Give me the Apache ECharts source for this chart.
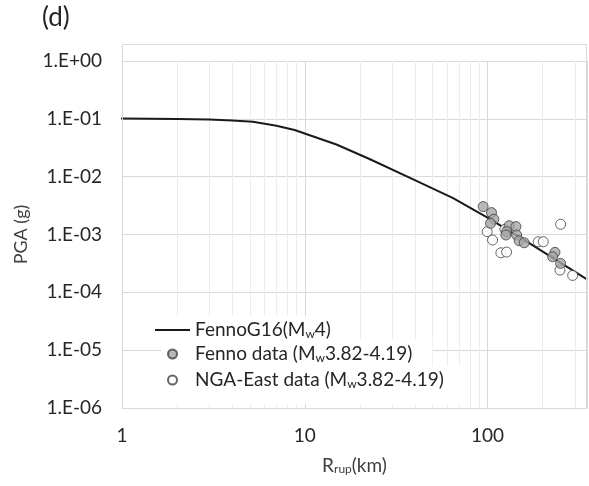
<!DOCTYPE html>
<html>
<head>
<meta charset="utf-8">
<script src="https://cdn.jsdelivr.net/npm/echarts@6/dist/echarts.min.js"></script>
<style>
html,body{margin:0;padding:0;background:#ffffff;}
#chart{width:589px;height:486px;}
</style>
</head>
<body>
<div id="chart"></div>
<script>
// ---- data ----
const xTicks = [1, 10, 100];
const xTickLabels = ['1', '10', '100'];
const yTicks = [1e-6, 1e-5, 1e-4, 1e-3, 1e-2, 1e-1, 1];
const yTickLabels = ['1.E-06', '1.E-05', '1.E-04', '1.E-03', '1.E-02', '1.E-01', '1.E+00'];
const xMinor = [2, 3, 4, 5, 6, 7, 8, 9, 20, 30, 40, 50, 60, 70, 80, 90, 200, 300];

const curveName = 'FennoG16(Mw4)';
const curveX = [0.885, 1, 2, 3, 4, 5.2, 7, 8.8, 14.9, 22.6, 40, 64.8, 80, 100, 160, 350];
const curveY = [0.101, 0.101, 0.0995, 0.0973, 0.094, 0.0887, 0.076, 0.064, 0.036, 0.0202, 0.0087, 0.00425, 0.00292, 0.00195, 0.00079, 0.000167];

const fennoName = 'Fenno data (Mw3.82-4.19)';
const fennoX = [94.6, 105.1, 108.3, 103.8, 131.3, 142.9, 127.1, 126, 144.2, 149, 158.7, 233.8, 227, 251];
const fennoY = [3.04e-3, 2.39e-3, 1.84e-3, 1.56e-3, 1.42e-3, 1.37e-3, 1.12e-3, 9.8e-4, 9.8e-4, 7.8e-4, 7.2e-4, 4.91e-4, 4.12e-4, 3.16e-4];

const ngaName = 'NGA-East data (Mw3.82-4.19)';
const ngaX = [251, 99.5, 106.5, 124.4, 189.3, 201.7, 118.3, 127.1, 249, 292.3];
const ngaY = [1.5e-3, 1.12e-3, 8.03e-4, 1.23e-3, 7.5e-4, 7.5e-4, 4.83e-4, 4.97e-4, 2.42e-4, 1.96e-4];

// ---- layout ----
const FONT = 'Lato';
const FS = 19;
const gridLeft = 122, gridRight = 2, gridTop = 61, gridBottom = 78;
const frameTop = 44;
const W = 589, H = 486;

function zip(a, b) { return a.map((v, i) => [v, b[i]]); }
function tickLabel(v, ticks, labels) {
  for (let i = 0; i < ticks.length; i++) {
    if (Math.abs(Math.log10(v) - Math.log10(ticks[i])) < 1e-6) return labels[i];
  }
  return '';
}
function richName(n) { return n.replace('Mw', 'M{s|w}'); }

const chart = echarts.init(document.getElementById('chart'), null, {renderer: 'canvas'});
function legendText(padLeft) {
  return {
    fontFamily: FONT, fontSize: FS, color: '#262626', lineHeight: 20, padding: [0, 0, 0, padLeft],
    rich: { s: { fontFamily: FONT, fontSize: 12, color: '#262626', lineHeight: 12, verticalAlign: 'bottom' } }
  };
}
chart.setOption({
  animation: false,
  backgroundColor: '#ffffff',
  title: {
    text: '(d)', left: 37, top: 0,
    textStyle: { fontFamily: FONT, fontSize: 26, fontWeight: 'normal', color: '#262626' }
  },
  grid: { left: gridLeft, right: gridRight, top: gridTop, bottom: gridBottom, containLabel: false, outerBoundsMode: 'none' },
  xAxis: {
    type: 'log', logBase: 10, min: 1, max: 350,
    name: 'R{s|rup}(km)', nameLocation: 'middle', nameGap: 48,
    nameTextStyle: {
      fontFamily: FONT, fontSize: FS, color: '#404040',
      rich: { s: { fontFamily: FONT, fontSize: 12, color: '#404040', verticalAlign: 'bottom', lineHeight: 12 } }
    },
    axisLine: { show: true, lineStyle: { color: '#d9d9d9', width: 1 } },
    axisTick: { show: false },
    axisLabel: {
      margin: 18, fontFamily: FONT, fontSize: FS, color: '#262626',
      formatter: v => tickLabel(v, xTicks, xTickLabels)
    },
    splitLine: { show: true, lineStyle: { color: '#d9d9d9', width: 1 } },
    minorTick: { show: false }, minorSplitLine: { show: false }
  },
  yAxis: {
    type: 'log', logBase: 10, min: 1e-6, max: 1,
    name: 'PGA (g)', nameLocation: 'middle', nameGap: 92, nameRotate: 90,
    nameTextStyle: { fontFamily: FONT, fontSize: FS - 1, color: '#404040' },
    axisLine: { show: true, lineStyle: { color: '#d9d9d9', width: 1 } },
    axisTick: { show: false },
    axisLabel: {
      margin: 20, fontFamily: FONT, fontSize: FS, color: '#262626',
      formatter: v => tickLabel(v, yTicks, yTickLabels)
    },
    splitLine: { show: true, lineStyle: { color: '#d9d9d9', width: 1 } }
  },
  legend: [
    { data: [{ name: curveName, icon: 'rect' }], orient: 'vertical', left: 149, top: 316, itemWidth: 35, itemHeight: 2,
      padding: [4, 20, 4, 6], itemGap: 0, backgroundColor: '#ffffff',
      formatter: richName, textStyle: legendText(0), selectedMode: false },
    { data: [{ name: fennoName, icon: 'circle' }], orient: 'vertical', left: 161, top: 340, itemWidth: 9, itemHeight: 9,
      padding: [4, 20, 4, 6], itemGap: 0, backgroundColor: '#ffffff',
      formatter: richName, textStyle: legendText(13), selectedMode: false },
    { data: [{ name: ngaName, icon: 'circle' }], orient: 'vertical', left: 161, top: 366, itemWidth: 9, itemHeight: 9,
      padding: [4, 20, 14, 6], itemGap: 0, backgroundColor: '#ffffff',
      formatter: richName, textStyle: legendText(13), selectedMode: false }
  ],
  graphic: [{
    type: 'rect', silent: true, z: 100,
    shape: { x: gridLeft + 0.5, y: frameTop + 0.5, width: W - gridRight - gridLeft - 1, height: H - gridBottom - frameTop },
    style: { fill: null, stroke: '#d9d9d9', lineWidth: 1 }
  }],
  series: [
    {
      name: 'minor', type: 'line', data: [], z: 1, silent: true,
      markLine: {
        z: 1, silent: true, symbol: ['none', 'none'], label: { show: false },
        lineStyle: { color: '#ededed', width: 1, type: 'solid' },
        emphasis: { disabled: true },
        data: xMinor.map(v => ({ xAxis: v }))
      }
    },
    {
      name: curveName, type: 'line', data: zip(curveX, curveY), symbol: 'none', z: 3, clip: false,
      lineStyle: { color: '#1a1a1a', width: 2 }, itemStyle: { color: '#1a1a1a' }
    },
    {
      name: ngaName, type: 'scatter', data: zip(ngaX, ngaY), symbol: 'circle', symbolSize: 10, z: 4,
      itemStyle: { color: '#ffffff', borderColor: '#404040', borderWidth: 1 }
    },
    {
      name: fennoName, type: 'scatter', data: zip(fennoX, fennoY), symbol: 'circle', symbolSize: 10, z: 5,
      itemStyle: { color: '#a6a6a6', borderColor: '#404040', borderWidth: 1 }
    }
  ]
});
</script>
</body>
</html>
